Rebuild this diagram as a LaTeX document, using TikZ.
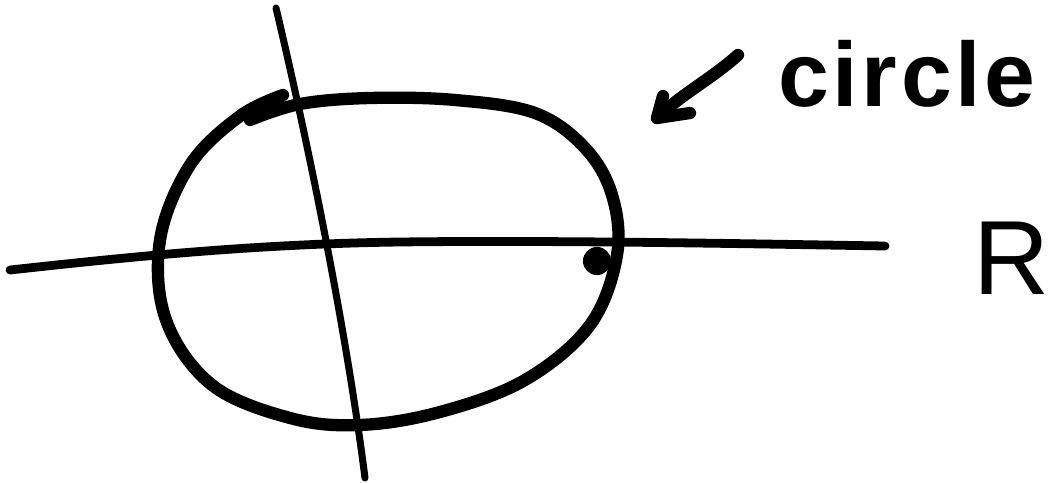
\documentclass[tikz,border=0pt]{standalone}
\usepackage{fontspec}
\setmainfont{Liberation Sans}
\newfontfamily\handfont[LetterSpace=4]{Liberation Sans}
\begin{document}
\begin{tikzpicture}[x=0.02cm,y=-0.02cm,
  ink/.style={line cap=round,line join=round,draw=black},
  haxis/.style={ink,line width=5pt},
  vaxis/.style={ink,line width=4pt},
  loop/.style={ink,line width=7pt},
  hand/.style={inner sep=0pt,font=\handfont\bfseries\fontsize{52}{60}\selectfont}]
\useasboundingbox (0,0) rectangle (1051,483);
% horizontal axis (real line)
\coordinate (hl) at (10,270);
\coordinate (hr) at (885,246);
\draw[haxis] (hl) .. controls (120,258) and (250,244) .. (400,242)
  .. controls (560,240) and (760,244) .. (hr);
% vertical axis
\coordinate (vt) at (276,8);
\coordinate (vb) at (365,478);
\draw[vaxis] (vt) .. controls (305,130) and (345,320) .. (vb);
% the closed loop ("circle")
\draw[loop] plot[smooth,tension=0.6] coordinates{
  (283,95) (240,116) (190,165) (160,240) (166,320) (212,385)
  (290,418) (360,425) (440,412) (525,380) (590,325) (617,255)
  (612,195) (585,148) (535,113) (455,100) (370,98) (300,104) (250,120)};
% dot on the loop
\fill (597,261) circle (8pt);
% label arrow
\coordinate (as) at (738,55);
\coordinate (at) at (657,118);
\draw[ink,line width=7pt] (as) .. controls (710,80) and (680,95) .. (at);
\draw[ink,line width=7pt] (663,96) -- (at) -- (690,113);
% labels
\node[hand] (lab) at (907,74) {circle};
\node[inner sep=0pt,font=\fontsize{60}{62}\selectfont] (R) at (1012,258) {R};
\end{tikzpicture}
\end{document}
